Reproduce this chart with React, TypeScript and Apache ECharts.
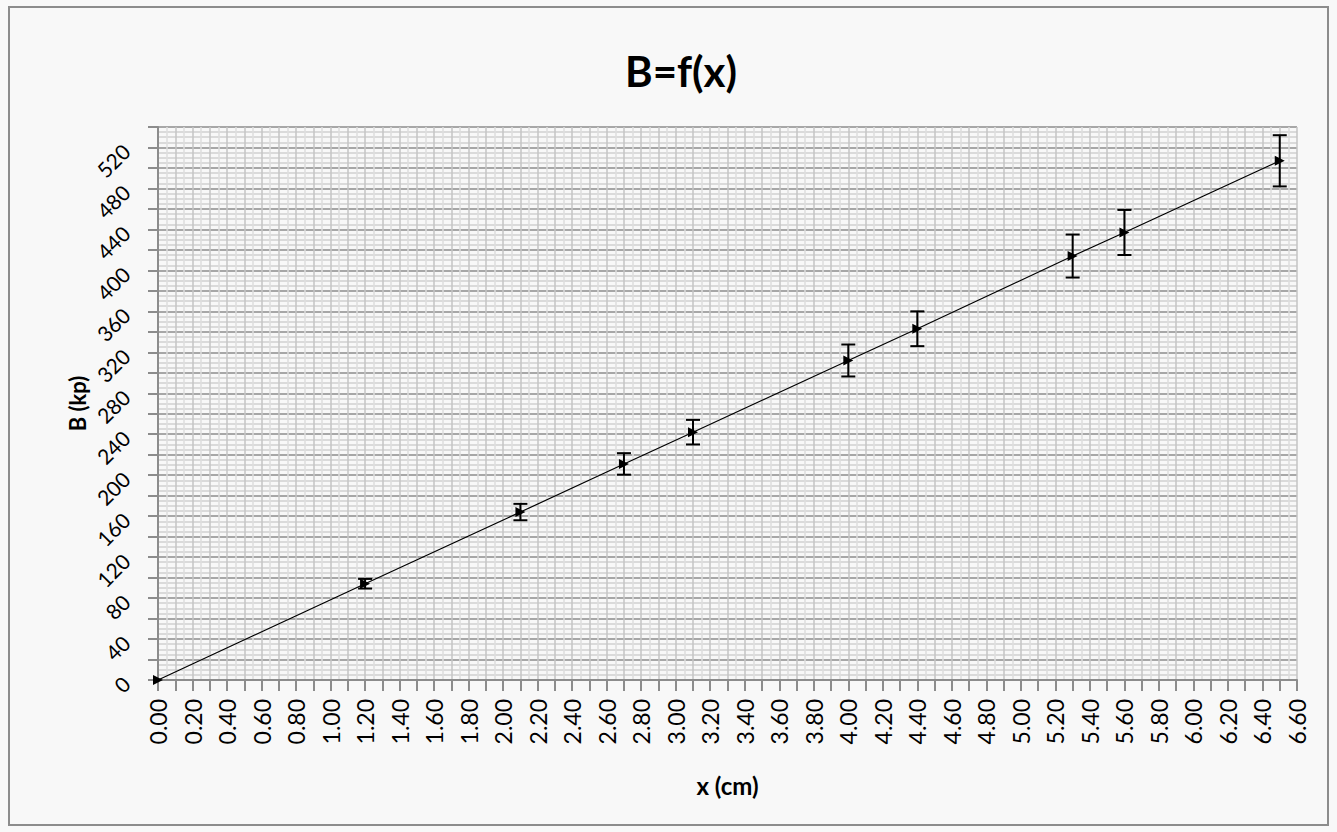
import React, { useEffect, useRef } from "react";
import * as echarts from "echarts";

const titleText = "B=f(x)";
const xName = "x (cm)";
const yName = "B (kp)";
const xValues = [0, 1.2, 2.1, 2.7, 3.1, 4.0, 4.4, 5.3, 5.6, 6.5];
const bValues = [0, 94, 164, 211, 242, 312, 343, 414, 437, 507];
const bErrors = [0, 4.7, 8, 10.5, 12, 15.6, 17, 21, 22, 25];
const xMin = 0;
const xMax = 6.6;
const xTickStep = 0.1;
const yMin = 0;
const yMax = 540;
const yTickStep = 20;

export default function App() {
  const ref = useRef<HTMLDivElement>(null);
  useEffect(() => {
    document.body.style.margin = "0";
    const chart = echarts.init(ref.current!, null, { renderer: "svg" });
    const points = xValues.map((x, i) => [x, bValues[i]]);
    const errData = xValues.map((x, i) => [x, bValues[i] - bErrors[i], bValues[i] + bErrors[i]]);
    const font = "Lato, 'Open Sans', sans-serif";
    chart.setOption({
      animation: false,
      backgroundColor: "#f8f8f8",
      graphic: [
        {
          type: "rect",
          shape: { x: 9, y: 7, width: 1319, height: 818 },
          style: { fill: "none", stroke: "#8c8c8c", lineWidth: 2 },
          z: -1,
          silent: true,
        },
        {
          type: "text",
          x: 681,
          y: 71,
          style: {
            text: titleText,
            fill: "#000",
            font: "bold 42px " + font,
            textAlign: "center",
            textVerticalAlign: "middle",
          },
        },
      ],
      grid: { left: 158, right: 40, top: 127, bottom: 152, containLabel: false },
      xAxis: {
        type: "value",
        min: xMin,
        max: xMax,
        interval: xTickStep,
        name: xName,
        nameLocation: "middle",
        nameGap: 93,
        nameMoveOverlap: false,
        nameTextStyle: { fontFamily: font, fontWeight: "bold", fontSize: 24, color: "#000" },
        axisLine: { show: true, lineStyle: { color: "#8c8c8c", width: 2 } },
        axisTick: { show: true, length: 11, lineStyle: { color: "#8c8c8c", width: 2 } },
        axisLabel: {
          rotate: 90,
          margin: 19,
          fontFamily: font,
          fontSize: 23,
          color: "#000",
          showMaxLabel: true,
          formatter: (v: number) => (Math.round(v * 10) % 2 === 0 ? v.toFixed(2) : ""),
        },
        splitLine: { show: true, lineStyle: { color: "#c4c4c4", width: 1.5 } },
        minorTick: { show: false, splitNumber: 2 },
        minorSplitLine: { show: true, lineStyle: { color: "#dedede", width: 1.5 } },
      },
      yAxis: {
        type: "value",
        min: yMin,
        max: yMax,
        interval: yTickStep,
        name: yName,
        nameLocation: "middle",
        nameGap: 70,
        nameRotate: 90,
        nameMoveOverlap: false,
        nameTextStyle: { fontFamily: font, fontWeight: "bold", fontSize: 22, color: "#000" },
        axisLine: { show: true, lineStyle: { color: "#8c8c8c", width: 2 } },
        axisTick: { show: true, length: 10, lineStyle: { color: "#8c8c8c", width: 2 } },
        axisLabel: {
          rotate: 45,
          margin: 32,
          fontFamily: font,
          fontSize: 21,
          color: "#000",
          formatter: (v: number) => (Math.round(v) % 40 === 0 ? String(v) : ""),
        },
        splitLine: { show: true, lineStyle: { color: "#8c8c8c", width: 1.5 } },
        minorTick: { show: false, splitNumber: 4 },
        minorSplitLine: { show: true, lineStyle: { color: "#d0d0d0", width: 1.5 } },
      },
      series: [
        {
          type: "line",
          data: points,
          lineStyle: { color: "#000", width: 1.2 },
          itemStyle: { color: "#000" },
          symbol: "triangle",
          symbolRotate: -90,
          symbolSize: 10,
          z: 3,
        },
        {
          type: "custom",
          data: errData,
          z: 4,
          renderItem: (params: any, api: any) => {
            const x = api.value(0);
            const lo = api.coord([x, api.value(1)]);
            const hi = api.coord([x, api.value(2)]);
            const half = 7;
            const style = { stroke: "#000", lineWidth: 2 };
            if (Math.abs(hi[1] - lo[1]) < 1) return { type: "group", children: [] };
            return {
              type: "group",
              children: [
                { type: "line", shape: { x1: lo[0], y1: lo[1], x2: hi[0], y2: hi[1] }, style },
                { type: "line", shape: { x1: lo[0] - half, y1: lo[1], x2: lo[0] + half, y2: lo[1] }, style },
                { type: "line", shape: { x1: hi[0] - half, y1: hi[1], x2: hi[0] + half, y2: hi[1] }, style },
              ],
            };
          },
        },
      ],
    });
    return () => chart.dispose();
  }, []);
  return <div ref={ref} style={{ width: 1337, height: 832 }} />;
}
